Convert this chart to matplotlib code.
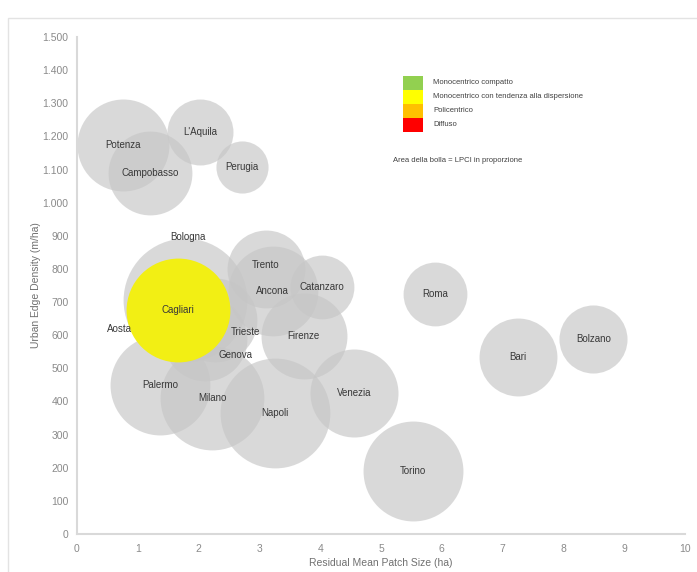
import matplotlib
matplotlib.use("Agg")
import matplotlib.pyplot as plt
from matplotlib.patches import Rectangle
from matplotlib.ticker import FuncFormatter
import numpy as np

# bubble data
cities = ["Potenza", "Campobasso", "L'Aquila", "Perugia", "Bologna", "Aosta",
          "Trento", "Ancona", "Catanzaro", "Trieste", "Genova", "Firenze",
          "Palermo", "Milano", "Napoli", "Venezia", "Torino", "Roma", "Bari",
          "Bolzano", "Cagliari"]
mps = [0.76, 1.20, 2.02, 2.71, 1.78, 1.50, 3.11, 3.22, 4.03, 2.27, 2.11, 3.73,
       1.37, 2.22, 3.26, 4.56, 5.53, 5.89, 7.25, 8.49, 1.66]
ued = [1173, 1089, 1213, 1107, 707, 640, 800, 732, 744, 647, 590, 599,
       450, 411, 366, 426, 190, 723, 535, 590, 677]
lpci = [212, 176, 109, 68, 384, 100, 152, 202, 102, 176, 176, 185,
        250, 270, 302, 194, 250, 102, 152, 116, 270]
highlight = ["Cagliari"]

legend_labels = ["Monocentrico compatto", "Monocentrico con tendenza alla dispersione",
                 "Policentrico", "Diffuso"]
legend_colors = ["#92d050", "#ffff00", "#ffc000", "#ff0000"]

# labels moved off the bubble centre (points)
label_offsets = {"Bologna": (2, 45), "Aosta": (-35, -5), "Trieste": (22, -9),
                 "Genova": (22, -12), "Trento": (0, 3)}

fig = plt.figure(figsize=(6.97, 5.72), dpi=100)
fig.patches.append(Rectangle((8 / 697, -0.1), 1.2, 1 - 18 / 572 + 0.1,
                             transform=fig.transFigure, fill=False,
                             edgecolor="#e3e3e3", lw=1.0))
ax = fig.add_axes([77 / 697, 1 - 534 / 572, 608 / 697, 497 / 572])

k = 20.7
for c, x, y, s in zip(cities, mps, ued, lpci):
    if c in highlight:
        continue
    ax.scatter(x, y, s=s * k, color="#c6c6c6", alpha=0.65, lw=0, zorder=2)
for c, x, y, s in zip(cities, mps, ued, lpci):
    if c in highlight:
        ax.scatter(x, y, s=s * k, color="#f2ef14", lw=0, zorder=3)

for c, x, y in zip(cities, mps, ued):
    dx, dy = label_offsets.get(c, (0, 0))
    ax.annotate(c, (x, y), xytext=(dx, dy), textcoords="offset points",
                ha="center", va="center", fontsize=7, color="#383838",
                family="Liberation Sans", zorder=5)

ax.set_xlim(0, 10)
ax.set_ylim(0, 1500)
ax.set_xticks(np.arange(0, 11, 1))
ax.set_yticks(np.arange(0, 1501, 100))
ax.yaxis.set_major_formatter(FuncFormatter(lambda v, p: f"{int(v):,}".replace(",", ".")))
ax.tick_params(length=0, labelsize=7.5, labelcolor="#8a8a8a")
ax.tick_params(axis="y", pad=6)
ax.tick_params(axis="x", pad=7)
for lab in ax.get_xticklabels() + ax.get_yticklabels():
    lab.set_family(["Liberation Sans Narrow", "Liberation Sans"])
for side in ["top", "right"]:
    ax.spines[side].set_visible(False)
for side in ["left", "bottom"]:
    ax.spines[side].set_color("#d9d9d9")
    ax.spines[side].set_linewidth(1.5)

ax.set_xlabel("Residual Mean Patch Size (ha)", fontsize=7.5, color="#707070",
              family=["Liberation Sans Narrow", "Liberation Sans"], labelpad=3)
ax.set_ylabel("Urban Edge Density (m/ha)", fontsize=7.5, color="#707070",
              family=["Liberation Sans Narrow", "Liberation Sans"], labelpad=1)

# legend boxes
for i, (lab, col) in enumerate(zip(legend_labels, legend_colors)):
    y0 = 1 - (76 + i * 14) / 572
    fig.patches.append(Rectangle((403 / 697, y0 - 14 / 572), 20 / 697, 14 / 572,
                                 transform=fig.transFigure, color=col, lw=0))
    fig.text(433 / 697, y0 - 7 / 572, lab, fontsize=5.5, color="#404040",
             va="center", ha="left", family="Liberation Sans")
fig.text(393 / 697, 1 - 160 / 572, "Area della bolla = LPCI in proporzione",
         fontsize=5.5, color="#404040", va="center", ha="left",
         family="Liberation Sans")

fig.savefig("out.png", dpi=100, facecolor="white")
